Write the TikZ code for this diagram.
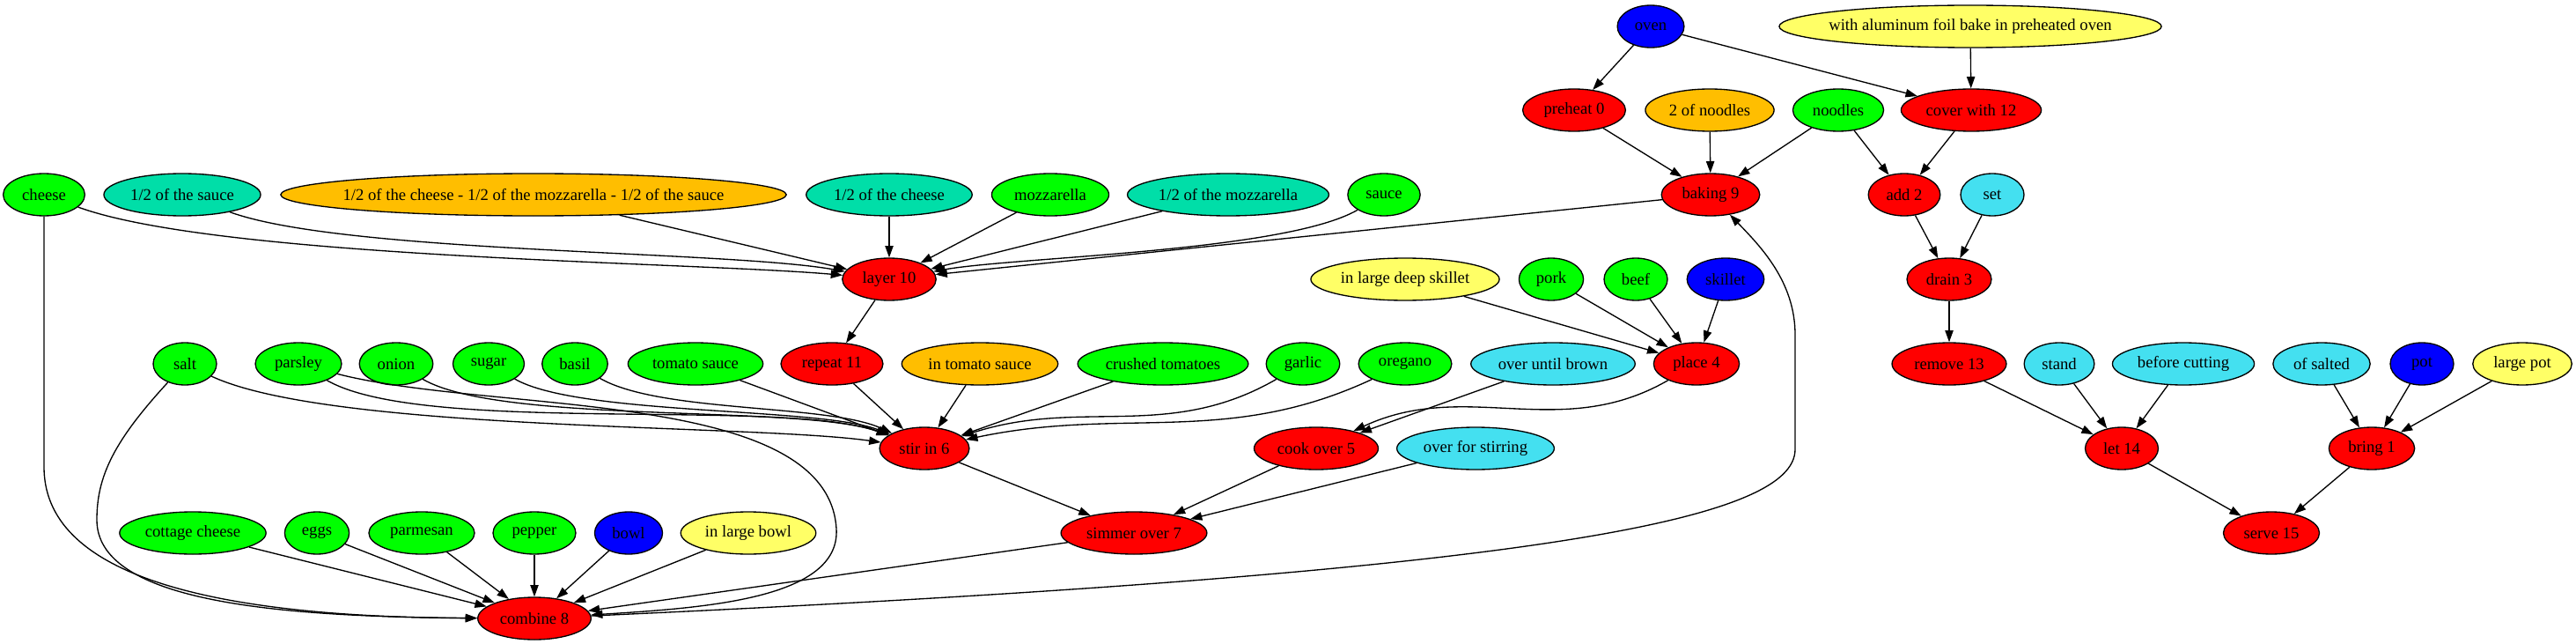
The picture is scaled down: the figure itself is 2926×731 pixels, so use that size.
\documentclass[tikz,border=0pt]{standalone}
\usepackage{fontspec}
\setmainfont{Liberation Serif}
\usetikzlibrary{arrows.meta,shapes.geometric}

% fill colours of the node kinds
\definecolor{stepred}{RGB}{255,0,0}
\definecolor{fooditem}{RGB}{0,255,0}
\definecolor{toolblue}{RGB}{0,0,255}
\definecolor{hintyellow}{RGB}{255,255,102}
\definecolor{portionorange}{RGB}{255,190,0}
\definecolor{halfteal}{RGB}{0,222,168}
\definecolor{howcyan}{RGB}{68,224,240}

\tikzset{
  gvnode/.style={ellipse, draw=black, line width=1pt, text=black,
    inner xsep=-10pt, inner ysep=0pt, minimum height=36pt},
  stepnode/.style={gvnode, fill=stepred},
  ingnode/.style={gvnode, fill=fooditem},
  toolnode/.style={gvnode, fill=toolblue},
  hintnode/.style={gvnode, fill=hintyellow},
  portionnode/.style={gvnode, fill=portionorange},
  halfnode/.style={gvnode, fill=halfteal},
  hownode/.style={gvnode, fill=howcyan},
  flow/.style={draw=black, line width=1pt, -{Triangle[length=10pt,width=7pt]}}
}

% ellipse as wide as its label asks for (style, name, x, y, label)
\newcommand\recipenode[5]{%
  \pgfmathsetmacro\recipew{max(54,1.414*(0.889*width("#5")+16))}%
  \node[#1, minimum width=\recipew pt] (#2) at (#3,-#4) {#5};%
}

\begin{document}
\begin{tikzpicture}[x=0.75pt, y=0.75pt]
        \fontsize{14pt}{17pt}\selectfont
        \useasboundingbox (0,0) rectangle (2926,-731);

        % row 1
        \recipenode{toolnode}{oven}{1875}{30}{oven}
        \recipenode{hintnode}{foil}{2238}{30}{with aluminum foil bake in preheated oven}

        % row 2
        \recipenode{stepnode}{preheat}{1788}{125}{preheat 0}
        \recipenode{portionnode}{twonoodles}{1942}{125}{2 of noodles}
        \recipenode{ingnode}{noodles}{2088}{125}{noodles}
        \recipenode{stepnode}{cover}{2239}{125}{cover with 12}

        % row 3
        \recipenode{ingnode}{cheese}{50}{221}{cheese}
        \recipenode{halfnode}{halfsauce}{207}{221}{1/2 of the sauce}
        \recipenode{portionnode}{halfall}{606}{221}{1/2 of the cheese - 1/2 of the mozzarella - 1/2 of the sauce}
        \recipenode{halfnode}{halfcheese}{1010}{221}{1/2 of the cheese}
        \recipenode{ingnode}{mozzarella}{1193}{221}{mozzarella}
        \recipenode{halfnode}{halfmozz}{1395}{221}{1/2 of the mozzarella}
        \recipenode{ingnode}{sauce}{1572}{221}{sauce}
        \recipenode{stepnode}{baking}{1943}{221}{baking 9}
        \recipenode{stepnode}{add}{2163}{221}{add 2}
        \recipenode{hownode}{set}{2263}{221}{set}

        % row 4
        \recipenode{stepnode}{layer}{1010}{317}{layer 10}
        \recipenode{hintnode}{deepskillet}{1596}{317}{in large deep skillet}
        \recipenode{ingnode}{pork}{1762}{317}{pork}
        \recipenode{ingnode}{beef}{1858}{317}{beef}
        \recipenode{toolnode}{skillet}{1960}{317}{skillet}
        \recipenode{stepnode}{drain}{2214}{317}{drain 3}

        % row 5
        \recipenode{ingnode}{salt}{210}{413}{salt}
        \recipenode{ingnode}{parsley}{339}{413}{parsley}
        \recipenode{ingnode}{onion}{450}{413}{onion}
        \recipenode{ingnode}{sugar}{555}{413}{sugar}
        \recipenode{ingnode}{basil}{653}{413}{basil}
        \recipenode{ingnode}{tomatosauce}{790}{413}{tomato sauce}
        \recipenode{stepnode}{repeat}{945}{413}{repeat 11}
        \recipenode{portionnode}{intomato}{1113}{413}{in tomato sauce}
        \recipenode{ingnode}{crushed}{1321}{413}{crushed tomatoes}
        \recipenode{ingnode}{garlic}{1480}{413}{garlic}
        \recipenode{ingnode}{oregano}{1596}{413}{oregano}
        \recipenode{hownode}{untilbrown}{1764}{413}{over until brown}
        \recipenode{stepnode}{place}{1927}{413}{place 4}
        \recipenode{stepnode}{remove}{2214}{413}{remove 13}
        \recipenode{hownode}{stand}{2339}{413}{stand}
        \recipenode{hownode}{beforecut}{2480}{413}{before cutting}
        \recipenode{hownode}{ofsalted}{2637}{413}{of salted}
        \recipenode{toolnode}{pot}{2751}{413}{pot}
        \recipenode{hintnode}{largepot}{2865}{413}{large pot}

        % row 6
        \recipenode{stepnode}{stir}{1050}{509}{stir in 6}
        \recipenode{stepnode}{cook}{1495}{509}{cook over 5}
        \recipenode{hownode}{forstirring}{1676}{509}{over for stirring}
        \recipenode{stepnode}{let}{2410}{509}{let 14}
        \recipenode{stepnode}{bring}{2694}{509}{bring 1}

        % row 7
        \recipenode{ingnode}{cottage}{219}{605}{cottage cheese}
        \recipenode{ingnode}{eggs}{360}{605}{eggs}
        \recipenode{ingnode}{parmesan}{479}{605}{parmesan}
        \recipenode{ingnode}{pepper}{607}{605}{pepper}
        \recipenode{toolnode}{bowl}{714}{605}{bowl}
        \recipenode{hintnode}{largebowl}{850}{605}{in large bowl}
        \recipenode{stepnode}{simmer}{1288}{605}{simmer over 7}
        \recipenode{stepnode}{serve}{2580}{605}{serve 15}

        % row 8
        \recipenode{stepnode}{combine}{607}{702}{combine 8}

        % bends of the long connectors
        \coordinate (cheesedrop) at (50,-530);
        \coordinate (saltdrop) at (110,-590);
        \coordinate (parsleyturn) at (950,-600);
        \coordinate (returnlow) at (2039,-510);
        \coordinate (returnhigh) at (2039,-380);

        % oven and noodles
        \draw[flow] (oven) -- (preheat);
        \draw[flow] (oven) -- (cover);
        \draw[flow] (foil) -- (cover);
        \draw[flow] (preheat) -- (baking);
        \draw[flow] (twonoodles) -- (baking);
        \draw[flow] (noodles) -- (baking);
        \draw[flow] (noodles) -- (add);
        \draw[flow] (cover) -- (add);
        \draw[flow] (add) -- (drain);
        \draw[flow] (set) -- (drain);
        \draw[flow] (drain) -- (remove);

        % layering
        \draw[flow] (cheese) to[out=-20, in=175, looseness=0.5] (layer);
        \draw[flow] (halfsauce) to[out=-20, in=170, looseness=0.5] (layer);
        \draw[flow] (halfall) -- (layer);
        \draw[flow] (halfcheese) -- (layer);
        \draw[flow] (mozzarella) -- (layer);
        \draw[flow] (halfmozz) -- (layer);
        \draw[flow] (sauce) to[out=-150, in=10, looseness=0.5] (layer);
        \draw[flow] (baking) -- (layer);
        \draw[flow] (layer) -- (repeat);

        % meat
        \draw[flow] (deepskillet) -- (place);
        \draw[flow] (pork) -- (place);
        \draw[flow] (beef) -- (place);
        \draw[flow] (skillet) -- (place);
        \draw[flow] (untilbrown) -- (cook);
        \draw[flow] (place) to[out=-150, in=25] (cook);

        % sauce
        \draw[flow] (salt) to[out=-25, in=172, looseness=0.5] (stir);
        \draw[flow] (parsley) to[out=-30, in=160, looseness=0.5] (stir);
        \draw[flow] (onion) to[out=-30, in=160, looseness=0.5] (stir);
        \draw[flow] (sugar) to[out=-30, in=158, looseness=0.5] (stir);
        \draw[flow] (basil) to[out=-30, in=155, looseness=0.6] (stir);
        \draw[flow] (tomatosauce) -- (stir);
        \draw[flow] (repeat) -- (stir);
        \draw[flow] (intomato) -- (stir);
        \draw[flow] (crushed) -- (stir);
        \draw[flow] (garlic) to[out=-150, in=18] (stir);
        \draw[flow] (oregano) to[out=-155, in=12] (stir);
        \draw[flow] (stir) -- (simmer);
        \draw[flow] (cook) -- (simmer);
        \draw[flow] (forstirring) -- (simmer);

        % serving
        \draw[flow] (remove) -- (let);
        \draw[flow] (stand) -- (let);
        \draw[flow] (beforecut) -- (let);
        \draw[flow] (ofsalted) -- (bring);
        \draw[flow] (pot) -- (bring);
        \draw[flow] (largepot) -- (bring);
        \draw[flow] (let) -- (serve);
        \draw[flow] (bring) -- (serve);

        % filling
        \draw[flow] (cottage) -- (combine);
        \draw[flow] (eggs) -- (combine);
        \draw[flow] (parmesan) -- (combine);
        \draw[flow] (pepper) -- (combine);
        \draw[flow] (bowl) -- (combine);
        \draw[flow] (largebowl) -- (combine);
        \draw[flow] (simmer) -- (combine);
        \draw[flow] (cheese) -- (cheesedrop) .. controls (50,-640) and (200,-700) .. (combine);
        \draw[flow] (salt) .. controls (130,-500) and (110,-540) .. (saltdrop)
                    .. controls (110,-680) and (300,-700) .. (combine);
        \draw[flow] (parsley) .. controls (560,-470) and (940,-440) .. (parsleyturn)
                    .. controls (955,-680) and (800,-690) .. (combine);
        \draw[flow] (combine) .. controls (1750,-650) and (2039,-590) .. (returnlow)
                    -- (returnhigh) .. controls (2039,-320) and (2000,-280) .. (baking);
\end{tikzpicture}
\end{document}
